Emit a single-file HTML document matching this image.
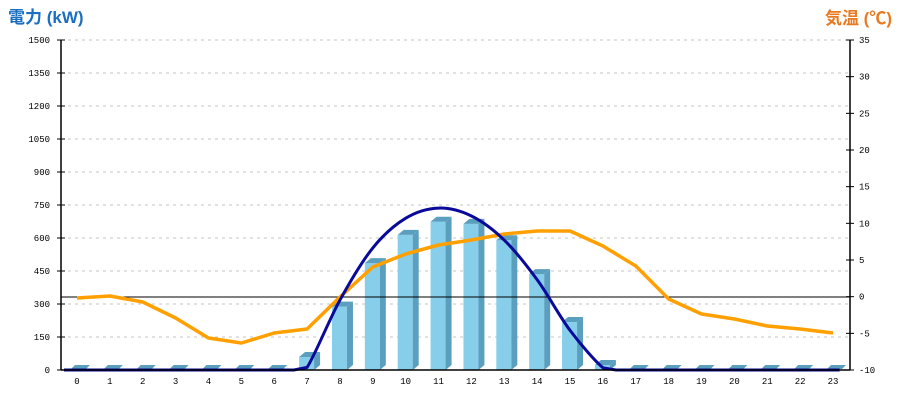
<!DOCTYPE html>
<html><head><meta charset="utf-8"><style>
html,body{margin:0;padding:0;background:#fff;width:900px;height:400px;overflow:hidden}
svg{display:block}
.t{font-family:"Liberation Mono",monospace;font-size:9px;fill:#000}
</style></head><body>
<svg width="900" height="400" xmlns="http://www.w3.org/2000/svg">
<text x="8" y="23" font-family="Liberation Sans,'Noto Sans CJK JP',sans-serif" font-size="17" font-weight="bold" fill="#1a6fc0">電力 (kW)</text>
<text x="892" y="24" text-anchor="end" font-family="Liberation Sans,'Noto Sans CJK JP',sans-serif" font-size="17" font-weight="bold" fill="#e87a22">気温 (℃)</text>
<g id="grid" stroke="#c4c4c4" stroke-dasharray="3,4" stroke-width="1"></g>
<g id="bars"></g>
<line x1="61" y1="297" x2="850" y2="297" stroke="#000" stroke-width="1"/>
<polyline id="temp" fill="none" stroke="#ffa000" stroke-width="3.5" stroke-linejoin="round"/>
<path id="pow" fill="none" stroke="#0a0a9a" stroke-width="3"/>
<line x1="61" y1="370" x2="850" y2="370" stroke="#000" stroke-width="1.5"/>
<line x1="61" y1="40" x2="61" y2="370" stroke="#000" stroke-width="1.5"/>
<line x1="850" y1="40" x2="850" y2="370" stroke="#000" stroke-width="1.5"/>
<g id="ticks"></g>
</svg>
<script>
(function(){
var NS="http://www.w3.org/2000/svg";
function el(p,n,a,t){var e=document.createElementNS(NS,n);for(var k in a)e.setAttribute(k,a[k]);if(t!=null)e.textContent=t;document.getElementById(p).appendChild(e);return e;}
for(var i=0;i<=10;i++){var y=370-i*33;
 if(i>0)el('grid','line',{x1:61,y1:y,x2:850,y2:y});
 el('ticks','line',{x1:57,y1:y,x2:65,y2:y,stroke:'#000'});
 el('ticks','text',{x:50,y:y+3,'text-anchor':'end','class':'t'},String(i*150));
}
for(var i=0;i<=9;i++){var y=370-i*36.667;
 el('ticks','line',{x1:846,y1:y,x2:854,y2:y,stroke:'#000'});
 el('ticks','text',{x:859,y:y+3,'class':'t'},String(-10+i*5));
}
function X(i){return 77+32.87*i;}
for(var i=0;i<24;i++)el('ticks','text',{x:X(i),y:384,'text-anchor':'middle','class':'t'},String(i));
var bv={7:59,8:288,9:486,10:614,11:674,12:664,13:590,14:436,15:218,16:23};
for(var i=0;i<24;i++){var c=X(i),v=bv[i]||0;
 var ty=370-v*0.22,l=c-8,r=c+7,d=6,o=5;
 if(v>0){
  el('bars','rect',{x:l,y:ty,width:r-l,height:370-ty,fill:'#87ceeb'});
  el('bars','polygon',{points:r+','+ty+' '+(r+d)+','+(ty-o)+' '+(r+d)+','+(370-o)+' '+r+',370',fill:'#5a9fbd'});
  el('bars','polygon',{points:l+','+ty+' '+(l+d)+','+(ty-o)+' '+(r+d)+','+(ty-o)+' '+r+','+ty,fill:'#5a9fbd'});
 } else {
  el('bars','polygon',{points:(l+2)+',369 '+(l+6)+',365 '+(r+6)+',365 '+(r+2)+',369',fill:'#5a9fbd'});
 }
}
var tp=[298,296,302,318,338,343,333,329,297,267,254,245,240,234,231,231,246,266,299,314,319,326,329,333];
document.getElementById('temp').setAttribute('points',tp.map(function(y,i){return X(i)+','+y}).join(' '));
var pv=[[0,0],[6.6,0],[7,12],[8,318],[9,555],[10,690],[11,736],[12,700],[13,590],[14,410],[15,180],[16,10],[16.4,0],[23.2,0]];
var pts=pv.map(function(p){return [X(p[0]),370-p[1]*0.22]});
pts[0][0]=64;
var dd='M'+pts[0][0]+','+pts[0][1];
for(var k=1;k<pts.length;k++){
 var p0=pts[k-2]||pts[k-1],p1=pts[k-1],p2=pts[k],p3=pts[k+1]||p2;
 var s=(k<=2||k>=pts.length-2)?0:1/6;
 var c1=[p1[0]+(p2[0]-p0[0])*s,p1[1]+(p2[1]-p0[1])*s],c2=[p2[0]-(p3[0]-p1[0])*s,p2[1]-(p3[1]-p1[1])*s];
 dd+=' C'+c1+' '+c2+' '+p2;
}
document.getElementById('pow').setAttribute('d',dd);
})();
</script>
</body></html>
